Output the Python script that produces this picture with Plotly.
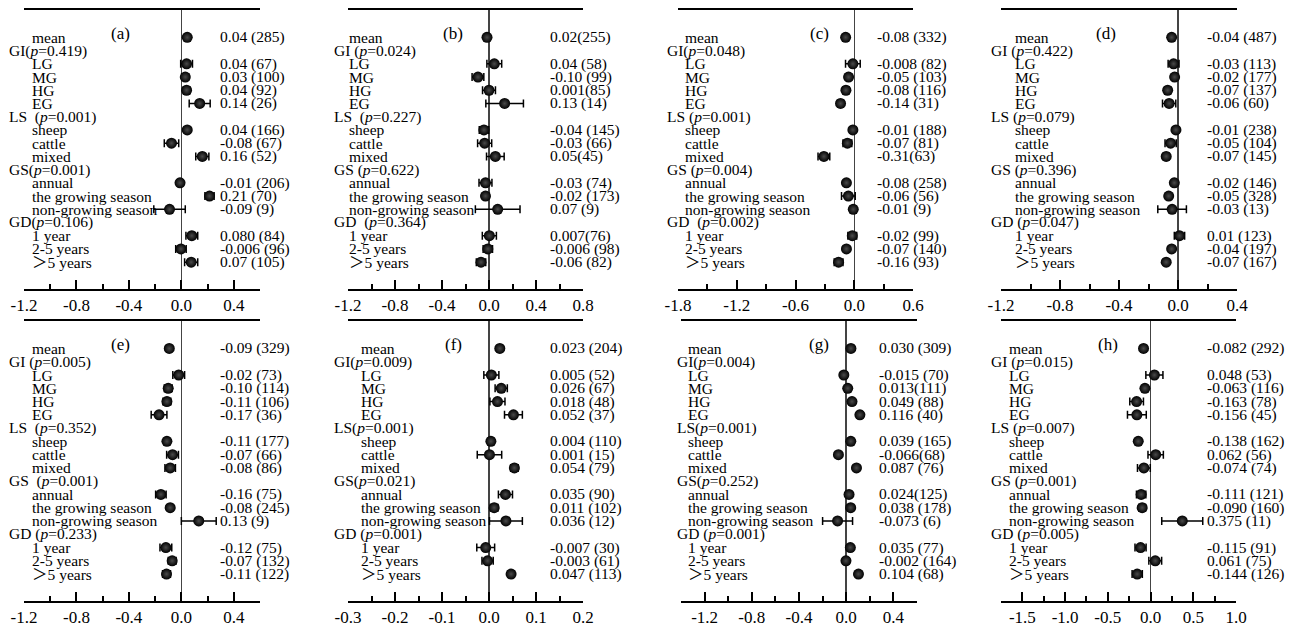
import plotly.graph_objects as go

W, H = 1298, 628

# ---------------- data ----------------
items = ["mean", "LG", "MG", "HG", "EG", "sheep", "cattle", "mixed",
         "annual", "the growing season", "non-growing season",
         "1 year", "2-5 years", "\uff1e5 years"]
item_rows = [0, 2, 3, 4, 5, 7, 8, 9, 11, 12, 13, 15, 16, 17]
header_rows = [1, 6, 10, 14]

panel_names = ["(a)", "(b)", "(c)", "(d)", "(e)", "(f)", "(g)", "(h)"]

headers_a = ["GI(p=0.419)", "LS\u00a0 (p=0.001)", "GS(p=0.001)", "GD(p=0.106)"]
headers_b = ["GI (p=0.024)", "LS\u00a0 (p=0.227)", "GS (p=0.622)", "GD\u00a0 (p=0.364)"]
headers_c = ["GI(p=0.048)", "LS (p=0.001)", "GS (p=0.004)", "GD\u00a0 (p=0.002)"]
headers_d = ["GI (p=0.422)", "LS (p=0.079)", "GS (p=0.396)", "GD (p=0.047)"]
headers_e = ["GI (p=0.005)", "LS\u00a0 (p=0.352)", "GS\u00a0 (p=0.001)", "GD (p=0.233)"]
headers_f = ["GI(p=0.009)", "LS(p=0.001)", "GS(p=0.021)", "GD (p=0.001)"]
headers_g = ["GI(p=0.004)", "LS(p=0.001)", "GS(p=0.252)", "GD (p=0.001)"]
headers_h = ["GI (p=0.015)", "LS (p=0.007)", "GS (p=0.001)", "GD (p=0.005)"]

effect_a = [0.045, 0.04, 0.03, 0.04, 0.14, 0.045, -0.075, 0.16, -0.01, 0.215, -0.09, 0.08, -0.003, 0.075]
err_a = [0.015, 0.045, 0.025, 0.025, 0.08, 0.02, 0.055, 0.05, 0.015, 0.035, 0.12, 0.045, 0.04, 0.05]
text_a = ["0.04 (285)", "0.04 (67)", "0.03 (100)", "0.04 (92)", "0.14 (26)", "0.04 (166)", "-0.08 (67)",
          "0.16 (52)", "-0.01 (206)", "0.21 (70)", "-0.09 (9)", "0.080 (84)", "-0.006 (96)", "0.07 (105)"]

effect_b = [-0.017, 0.045, -0.094, 0.0, 0.133, -0.043, -0.037, 0.054, -0.03, -0.03, 0.074, 0.003, -0.01, -0.068]
err_b = [0.02, 0.063, 0.05, 0.055, 0.16, 0.04, 0.06, 0.075, 0.055, 0.02, 0.19, 0.06, 0.04, 0.04]
text_b = ["0.02(255)", "0.04 (58)", "-0.10 (99)", "0.001(85)", "0.13 (14)", "-0.04 (145)", "-0.03 (66)",
          "0.05(45)", "-0.03 (74)", "-0.02 (173)", "0.07 (9)", "0.007(76)", "-0.006 (98)", "-0.06 (82)"]

effect_c = [-0.088, -0.014, -0.058, -0.085, -0.14, -0.014, -0.07, -0.31, -0.08, -0.06, -0.01, -0.02, -0.08, -0.16]
err_c = [0.02, 0.075, 0.03, 0.03, 0.03, 0.02, 0.045, 0.06, 0.02, 0.07, 0.03, 0.045, 0.025, 0.045]
text_c = ["-0.08 (332)", "-0.008 (82)", "-0.05 (103)", "-0.08 (116)", "-0.14 (31)", "-0.01 (188)", "-0.07 (81)",
          "-0.31(63)", "-0.08 (258)", "-0.06 (56)", "-0.01 (9)", "-0.02 (99)", "-0.07 (140)", "-0.16 (93)"]

effect_d = [-0.043, -0.03, -0.023, -0.07, -0.06, -0.014, -0.05, -0.08, -0.025, -0.063, -0.04, 0.01, -0.043, -0.08]
err_d = [0.015, 0.037, 0.015, 0.02, 0.045, 0.015, 0.038, 0.02, 0.015, 0.015, 0.097, 0.035, 0.015, 0.015]
text_d = ["-0.04 (487)", "-0.03 (113)", "-0.02 (177)", "-0.07 (137)", "-0.06 (60)", "-0.01 (238)", "-0.05 (104)",
          "-0.07 (145)", "-0.02 (146)", "-0.05 (328)", "-0.03 (13)", "0.01 (123)", "-0.04 (197)", "-0.07 (167)"]

effect_e = [-0.092, -0.02, -0.1, -0.11, -0.17, -0.11, -0.067, -0.085, -0.156, -0.085, 0.133, -0.118, -0.07, -0.113]
err_e = [0.015, 0.045, 0.03, 0.03, 0.06, 0.02, 0.045, 0.04, 0.04, 0.015, 0.133, 0.045, 0.03, 0.03]
text_e = ["-0.09 (329)", "-0.02 (73)", "-0.10 (114)", "-0.11 (106)", "-0.17 (36)", "-0.11 (177)", "-0.07 (66)",
          "-0.08 (86)", "-0.16 (75)", "-0.08 (245)", "0.13 (9)", "-0.12 (75)", "-0.07 (132)", "-0.11 (122)"]

effect_f = [0.023, 0.005, 0.026, 0.018, 0.052, 0.004, 0.001, 0.054, 0.035, 0.011, 0.036, -0.007, -0.003, 0.047]
err_f = [0.005, 0.016, 0.013, 0.016, 0.019, 0.006, 0.026, 0.008, 0.015, 0.008, 0.035, 0.019, 0.012, 0.006]
text_f = ["0.023 (204)", "0.005 (52)", "0.026 (67)", "0.018 (48)", "0.052 (37)", "0.004 (110)", "0.001 (15)",
          "0.054 (79)", "0.035 (90)", "0.011 (102)", "0.036 (12)", "-0.007 (30)", "-0.003 (61)", "0.047 (113)"]

effect_g = [0.04, -0.02, 0.013, 0.049, 0.116, 0.039, -0.066, 0.087, 0.024, 0.038, -0.073, 0.035, -0.002, 0.104]
err_g = [0.01, 0.01, 0.01, 0.01, 0.02, 0.01, 0.01, 0.01, 0.01, 0.01, 0.127, 0.01, 0.01, 0.01]
text_g = ["0.030 (309)", "-0.015 (70)", "0.013(111)", "0.049 (88)", "0.116 (40)", "0.039 (165)", "-0.066(68)",
          "0.087 (76)", "0.024(125)", "0.038 (178)", "-0.073 (6)", "0.035 (77)", "-0.002 (164)", "0.104 (68)"]

effect_h = [-0.082, 0.045, -0.066, -0.163, -0.16, -0.144, 0.06, -0.078, -0.11, -0.098, 0.371, -0.117, 0.055, -0.156]
err_h = [0.02, 0.1, 0.03, 0.08, 0.11, 0.03, 0.09, 0.075, 0.055, 0.04, 0.24, 0.065, 0.075, 0.06]
text_h = ["-0.082 (292)", "0.048 (53)", "-0.063 (116)", "-0.163 (78)", "-0.156 (45)", "-0.138 (162)", "0.062 (56)",
          "-0.074 (74)", "-0.111 (121)", "-0.090 (160)", "0.375 (11)", "-0.115 (91)", "0.061 (75)", "-0.144 (126)"]

# axis tick labels
ticks_a = [-1.2, -0.8, -0.4, 0.0, 0.4]
ticks_b = [-1.2, -0.8, -0.4, 0.0, 0.4, 0.8]
ticks_c = [-1.8, -1.2, -0.6, 0.0, 0.6]
ticks_d = [-1.2, -0.8, -0.4, 0.0, 0.4]
ticks_e = [-1.2, -0.8, -0.4, 0.0, 0.4]
ticks_f = [-0.3, -0.2, -0.1, 0.0, 0.1, 0.2]
ticks_g = [-1.2, -0.8, -0.4, 0.0, 0.4]
ticks_h = [-1.5, -1.0, -0.5, 0.0, 0.5, 1.0]

effects = [effect_a, effect_b, effect_c, effect_d, effect_e, effect_f, effect_g, effect_h]
errs = [err_a, err_b, err_c, err_d, err_e, err_f, err_g, err_h]
texts = [text_a, text_b, text_c, text_d, text_e, text_f, text_g, text_h]
headers = [headers_a, headers_b, headers_c, headers_d, headers_e, headers_f, headers_g, headers_h]
ticks = [ticks_a, ticks_b, ticks_c, ticks_d, ticks_e, ticks_f, ticks_g, ticks_h]

# ---------------- layout (pixels) ----------------
panels = [
    dict(rng=(-1.2, 0.6), minor=0.2, px=(24, 260), hx=8, ix=31, vx=219, lx=120, py=(10, 289)),
    dict(rng=(-1.2, 0.8), minor=0.2, px=(348, 583), hx=333, ix=348, vx=549, lx=453, py=(10, 289)),
    dict(rng=(-1.8, 0.6), minor=0.3, px=(678, 913), hx=666, ix=684, vx=876, lx=819, py=(10, 289)),
    dict(rng=(-1.2, 0.4), minor=0.2, px=(1001, 1237), hx=990, ix=1014, vx=1206, lx=1106, py=(10, 289)),
    dict(rng=(-1.2, 0.6), minor=0.2, px=(24, 260), hx=8, ix=31, vx=219, lx=120, py=(321, 601)),
    dict(rng=(-0.3, 0.2), minor=0.05, px=(348, 583), hx=333, ix=360, vx=549, lx=453, py=(321, 601)),
    dict(rng=(-1.4, 0.6), minor=0.2, px=(681, 917), hx=676, ix=687, vx=878, lx=819, py=(321, 601)),
    dict(rng=(-1.75, 1.0), minor=0.25, px=(1001, 1236), hx=990, ix=1008, vx=1206, lx=1108, py=(321, 601)),
]
Y_RANGE = [19.03, -2.07]
FONT = "Liberation Serif, Times New Roman, Noto Sans CJK SC, serif"
LBL = 15.5

fig = go.Figure()
annotations = []
layout = dict(width=W, height=H, margin=dict(l=0, r=0, t=0, b=0, autoexpand=False),
              paper_bgcolor="white", plot_bgcolor="white", showlegend=False,
              font=dict(family=FONT, color="black"))

for i, p in enumerate(panels):
    n = i + 1
    xa = "x" if n == 1 else f"x{n}"
    ya = "y" if n == 1 else f"y{n}"
    xkey = "xaxis" if n == 1 else f"xaxis{n}"
    ykey = "yaxis" if n == 1 else f"yaxis{n}"

    fig.add_trace(go.Scatter(
        x=effects[i], y=item_rows, mode="markers", xaxis=xa, yaxis=ya,
        hoverinfo="skip",
        marker=dict(size=11, color="black", line=dict(width=0),
                    gradient=dict(type="radial", color="#4a4a4a")),
        error_x=dict(type="data", array=errs[i], color="black", thickness=1.5, width=4),
    ))

    tv = ticks[i]
    tt = ["%.1f" % v for v in tv]
    lo, hi = p["rng"]
    layout[xkey] = dict(
        domain=[p["px"][0] / W, p["px"][1] / W], range=[lo, hi], anchor=ya,
        showline=True, linecolor="black", linewidth=2, mirror=True,
        ticks="inside", ticklen=9, tickwidth=2, tickcolor="black",
        tickmode="array", tickvals=tv, ticktext=tt,
        tickfont=dict(family=FONT, size=17, color="black"),
        minor=dict(ticks="inside", ticklen=5, tickwidth=2, tickcolor="black",
                   tickmode="linear", tick0=lo, dtick=p["minor"]),
        showgrid=False, zeroline=True, zerolinecolor="#444444", zerolinewidth=1.5,
        fixedrange=True, automargin=False,
    )
    layout[ykey] = dict(
        domain=[1 - p["py"][1] / H, 1 - p["py"][0] / H], range=Y_RANGE, anchor=xa,
        showline=False, showticklabels=False, showgrid=False, zeroline=False,
        ticks="", fixedrange=True, automargin=False,
    )

    for name, r in zip(items, item_rows):
        annotations.append(dict(text=name, x=p["ix"] / W, xref="paper", y=r, yref=ya,
                                xanchor="left", yanchor="middle", showarrow=False, borderpad=0,
                                font=dict(family=FONT, size=LBL, color="black")))
    for h, r in zip(headers[i], header_rows):
        h_html = h.replace("p=", "<i>p</i>=")
        annotations.append(dict(text=h_html, x=p["hx"] / W, xref="paper", y=r, yref=ya,
                                xanchor="left", yanchor="middle", showarrow=False, borderpad=0,
                                font=dict(family=FONT, size=LBL, color="black")))
    for t, r in zip(texts[i], item_rows):
        annotations.append(dict(text=t, x=p["vx"] / W, xref="paper", y=r, yref=ya,
                                xanchor="left", yanchor="middle", showarrow=False, borderpad=0,
                                font=dict(family=FONT, size=LBL, color="black")))
    annotations.append(dict(text=panel_names[i], x=p["lx"] / W, xref="paper", y=-0.3, yref=ya,
                            xanchor="center", yanchor="middle", showarrow=False, borderpad=0,
                            font=dict(family=FONT, size=17, color="black")))

layout["annotations"] = annotations
fig.update_layout(**layout)

page_fix = ("document.body.style.margin='0px';document.body.style.overflow='hidden';"
            "var d=document.getElementById('{plot_id}');d.style.position='absolute';"
            "d.style.left='0px';d.style.top='0px';")
fig.write_html("out.html", post_script=page_fix,
               config={"displayModeBar": False, "staticPlot": True})
